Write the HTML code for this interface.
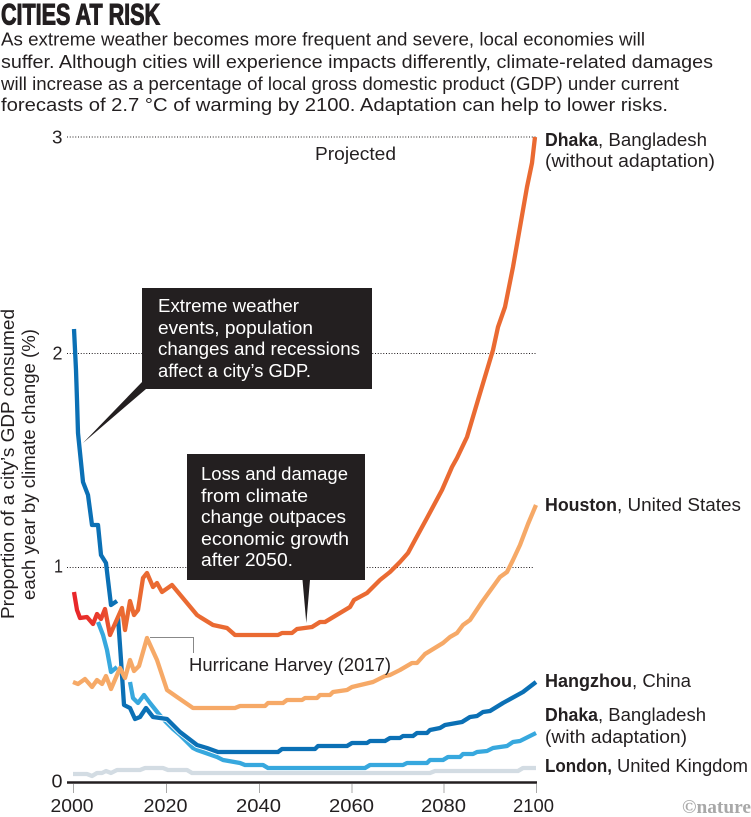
<!DOCTYPE html>
<html><head><meta charset="utf-8"><style>
html,body{margin:0;padding:0;background:#fff}
svg{display:block}
text{font-family:"Liberation Sans",sans-serif;fill:#231f20;font-size:18px}
.w{fill:#fff}
.b{font-weight:bold}
.l{fill:none;stroke-linejoin:round;stroke-linecap:butt;stroke-width:4.3}
</style></head><body>
<svg width="751" height="817" viewBox="0 0 751 817" xmlns="http://www.w3.org/2000/svg">
<defs><linearGradient id="rg" gradientUnits="userSpaceOnUse" x1="74" y1="0" x2="118" y2="0"><stop offset="0" stop-color="#e8262a"/><stop offset=".5" stop-color="#e9382b"/><stop offset="1" stop-color="#ea6a32"/></linearGradient></defs>
<text x="1" y="24.5" textLength="159" lengthAdjust="spacingAndGlyphs" style="font-family:'Liberation Sans Narrow','Liberation Sans',sans-serif;font-weight:bold;font-size:29.5px;stroke:#231f20;stroke-width:1.1">CITIES AT RISK</text>
<text x="1" y="45.5" textLength="644" lengthAdjust="spacingAndGlyphs">As extreme weather becomes more frequent and severe, local economies will</text>
<text x="1" y="68" textLength="712" lengthAdjust="spacingAndGlyphs">suffer. Although cities will experience impacts differently, climate-related damages</text>
<text x="1" y="90" textLength="678" lengthAdjust="spacingAndGlyphs">will increase as a percentage of local gross domestic product (GDP) under current</text>
<text x="1" y="111" textLength="667" lengthAdjust="spacingAndGlyphs">forecasts of 2.7 °C of warming by 2100. Adaptation can help to lower risks.</text>

<g stroke="#231f20" stroke-width="1" stroke-dasharray="1 1.75" fill="none">
<line x1="67" y1="137" x2="536" y2="137"/>
<line x1="67" y1="353.5" x2="536" y2="353.5"/>
<line x1="67" y1="567.5" x2="534" y2="567.5"/>
</g>
<text x="52" y="143.5" textLength="10.5" lengthAdjust="spacingAndGlyphs">3</text>
<text x="52.5" y="359.5" textLength="10" lengthAdjust="spacingAndGlyphs">2</text>
<text x="54" y="572.5" textLength="9" lengthAdjust="spacingAndGlyphs">1</text>
<text x="51.5" y="787.5" textLength="11" lengthAdjust="spacingAndGlyphs">0</text>
<text x="315" y="160" textLength="81" lengthAdjust="spacingAndGlyphs">Projected</text>

<polyline class="l" stroke="#d3dce3" points="73,774 87,774 92,776 97,773 102,773 106,771 111,773 117,770 140,770 145,768 163,768 168,770 187,770 192,773 430,773 435,771 518,771 523,768 536,768"/>
<polyline class="l" stroke="#37a8de" points="98,622 103,635 107,650 111,672 117,667"/>
<polyline class="l" stroke="#37a8de" points="130,682 133,698 138,703 144,695 150,703 158,713 165,721 173,729 180,735 193,748 197,750 217,757 223,760 240,763 245,765 263,765 268,768 365,768 370,765 403,765 407,763 427,763 430,760 443,760 448,757 460,757 463,754 473,754 477,752 487,751 493,748 507,746 513,742 520,741 536,733"/>
<polyline fill="none" stroke="#fff" stroke-width="6" stroke-linejoin="round" points="140,717 146,708 153,717 167,719 180,732 197,745 207,748 218,752"/>
<polyline class="l" stroke="#0b70b5" points="74,329 76,370 77,400 78,433 83,482 88,495 92,525 98,525 101,555 106,563 108,580 111,605 117,601"/>
<polyline class="l" stroke="#0b70b5" points="118,617 121,660 124,705 130,708 135,719 140,717 146,708 153,717 167,719 180,732 197,745 207,748 218,752 278,752 282,749 315,749 318,746 347,746 352,743 367,743 370,741 385,741 390,738 400,738 403,736 413,736 417,733 427,733 430,730 440,728 445,725 462,722 470,717 477,716 483,712 490,711 503,703 523,692 536,682"/>
<polyline class="l" stroke="#f6a967" points="73,682 78,684 85,679 92,687 97,680 102,684 106,676 111,689 120,668 125,678 130,660 134,671 139,666 147,638 157,660 167,690 177,697 193,708 235,708 240,706 265,706 268,703 283,703 287,700 302,700 305,698 317,698 320,695 330,695 333,692 347,690 352,687 373,682 385,676 390,675 400,670 412,663 417,663 425,654 443,643 450,637 457,633 463,625 470,620 482,602 500,577 507,572 513,560 520,545 528,524 536,505"/>
<polyline class="l" stroke="url(#rg)" points="74,592 77,610 80,618 87,617 93,624 97,614 101,619 105,609 110,635 122,608 125,630 130,601 134,615 138,610 143,578 147,573 153,587 157,583 162,592 172,585 197,615 200,617 213,625 227,628 235,635 278,635 282,633 292,633 297,629 312,627 320,622 325,622 350,607 354,600 367,593 380,580 390,572 400,562 408,553 415,540 427,518 442,490 452,467 457,458 467,437 478,400 493,350 498,327 505,307 513,267 520,227 527,187 532,163 535,137"/>

<polyline points="150,637.5 193.5,637.5 193.5,653" fill="none" stroke="#888" stroke-width="1"/>
<text x="189" y="671" textLength="202" lengthAdjust="spacingAndGlyphs">Hurricane Harvey (2017)</text>

<path d="M142,288H372V389H146L83,443L142,382Z" fill="#231f20"/>
<text class="w" x="158" y="312" textLength="141" lengthAdjust="spacingAndGlyphs">Extreme weather</text>
<text class="w" x="158" y="334" textLength="155" lengthAdjust="spacingAndGlyphs">events, population</text>
<text class="w" x="158" y="355" textLength="202" lengthAdjust="spacingAndGlyphs">changes and recessions</text>
<text class="w" x="158" y="377" textLength="153" lengthAdjust="spacingAndGlyphs">affect a city’s GDP.</text>

<path d="M187,454H365V580H310L306.3,623L302.5,580H187Z" fill="#231f20"/>
<text class="w" x="201" y="480" textLength="147" lengthAdjust="spacingAndGlyphs">Loss and damage</text>
<text class="w" x="201" y="502" textLength="107" lengthAdjust="spacingAndGlyphs">from climate</text>
<text class="w" x="201" y="523" textLength="145" lengthAdjust="spacingAndGlyphs">change outpaces</text>
<text class="w" x="201" y="545" textLength="148" lengthAdjust="spacingAndGlyphs">economic growth</text>
<text class="w" x="201" y="566" textLength="92" lengthAdjust="spacingAndGlyphs">after 2050.</text>

<line x1="67" y1="782.5" x2="537" y2="782.5" stroke="#231f20" stroke-width="2.5"/>
<g stroke="#a9a9a9" stroke-width="1">
<line x1="73.5" y1="784" x2="73.5" y2="793"/><line x1="166.5" y1="784" x2="166.5" y2="793"/><line x1="259.5" y1="784" x2="259.5" y2="793"/><line x1="352" y1="784" x2="352" y2="793"/><line x1="444" y1="784" x2="444" y2="793"/><line x1="536.5" y1="784" x2="536.5" y2="793"/>
</g>
<text x="50.5" y="812" textLength="43" lengthAdjust="spacingAndGlyphs">2000</text>
<text x="143.5" y="812" textLength="44" lengthAdjust="spacingAndGlyphs">2020</text>
<text x="236" y="812" textLength="45" lengthAdjust="spacingAndGlyphs">2040</text>
<text x="329" y="812" textLength="45" lengthAdjust="spacingAndGlyphs">2060</text>
<text x="421" y="812" textLength="45" lengthAdjust="spacingAndGlyphs">2080</text>
<text x="513" y="812" textLength="41" lengthAdjust="spacingAndGlyphs">2100</text>

<text class="b" x="545" y="146" textLength="53" lengthAdjust="spacingAndGlyphs">Dhaka</text>
<text x="598" y="146" textLength="109" lengthAdjust="spacingAndGlyphs">, Bangladesh</text>
<text x="545" y="167" textLength="170" lengthAdjust="spacingAndGlyphs">(without adaptation)</text>
<text class="b" x="545" y="511" textLength="72" lengthAdjust="spacingAndGlyphs">Houston</text>
<text x="617" y="511" textLength="124" lengthAdjust="spacingAndGlyphs">, United States</text>
<text class="b" x="545" y="687" textLength="87" lengthAdjust="spacingAndGlyphs">Hangzhou</text>
<text x="632" y="687" textLength="59" lengthAdjust="spacingAndGlyphs">, China</text>
<text class="b" x="545" y="721" textLength="53" lengthAdjust="spacingAndGlyphs">Dhaka</text>
<text x="598" y="721" textLength="108" lengthAdjust="spacingAndGlyphs">, Bangladesh</text>
<text x="545" y="743" textLength="142" lengthAdjust="spacingAndGlyphs">(with adaptation)</text>
<text class="b" x="545" y="772" textLength="67" lengthAdjust="spacingAndGlyphs">London,</text>
<text x="617" y="772" textLength="131" lengthAdjust="spacingAndGlyphs">United Kingdom</text>

<text transform="translate(14,619) rotate(-90)" x="0" y="0" textLength="310" lengthAdjust="spacingAndGlyphs">Proportion of a city’s GDP consumed</text>
<text transform="translate(35,600) rotate(-90)" x="0" y="0" textLength="271" lengthAdjust="spacingAndGlyphs">each year by climate change (%)</text>

<text x="682" y="813" textLength="69" lengthAdjust="spacingAndGlyphs" style="font-family:'Liberation Serif',serif;font-weight:bold;font-size:19px;fill:#a8a8a8">©nature</text>
</svg>
</body></html>
